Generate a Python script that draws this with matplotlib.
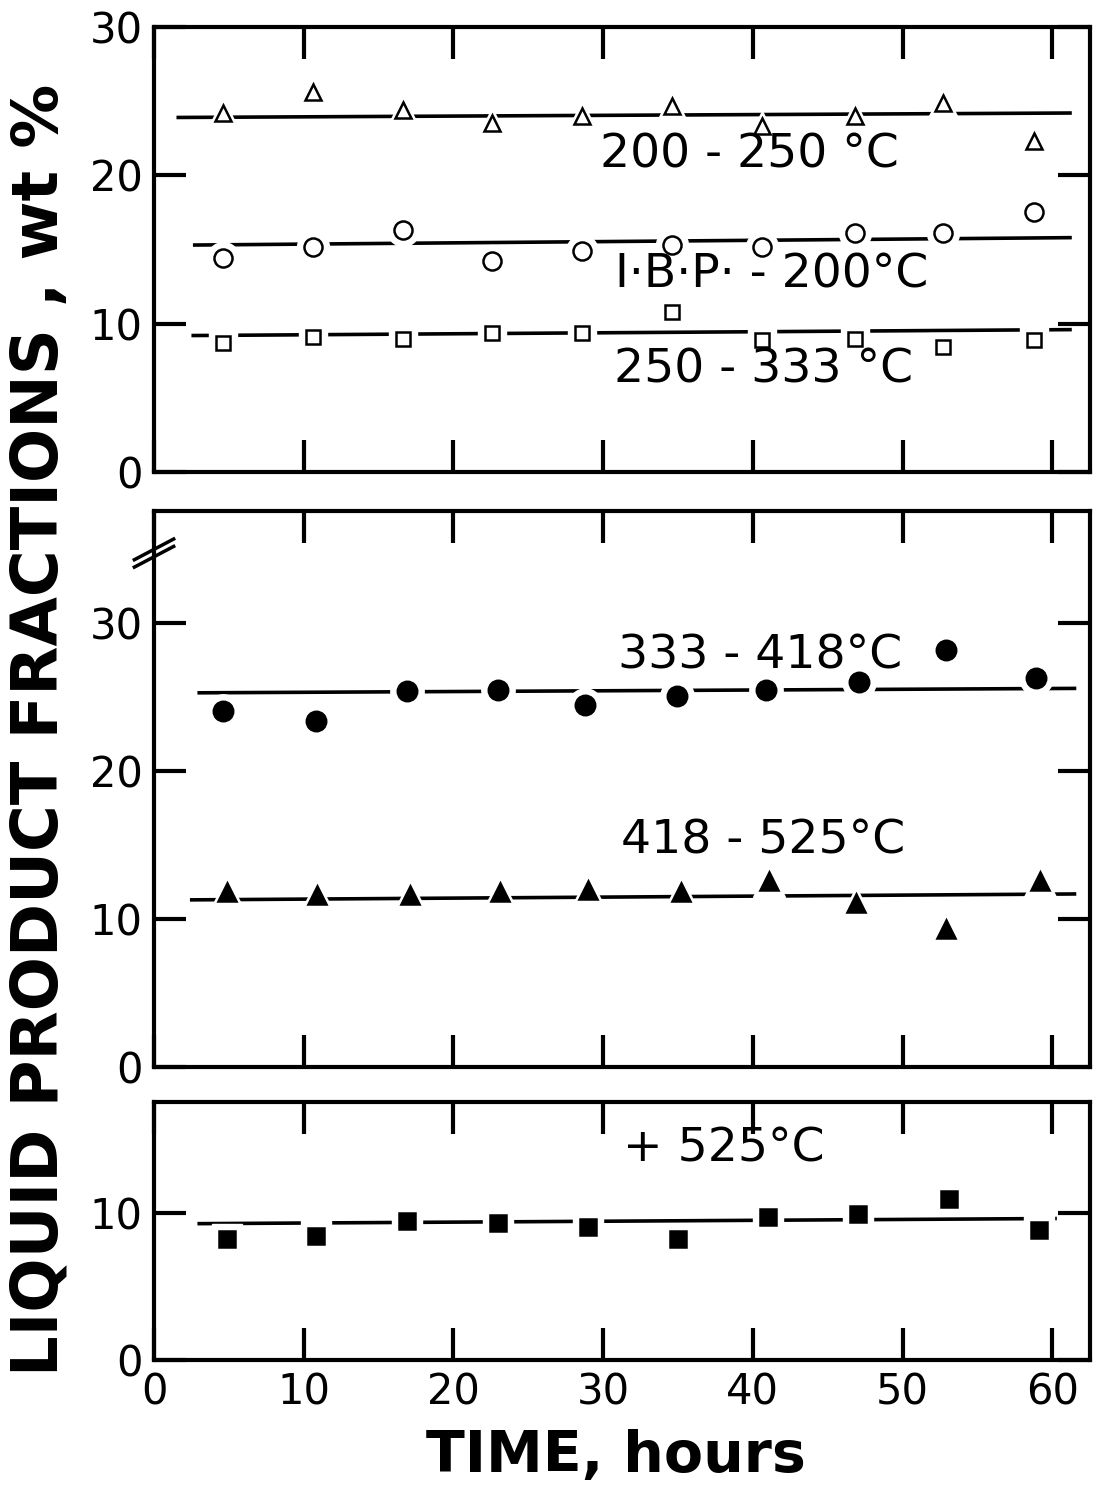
import matplotlib
matplotlib.use("Agg")
import matplotlib.pyplot as plt
import matplotlib.transforms as mtransforms

# sampling times (hours), read per panel
time_top = [4.6, 10.6, 16.6, 22.6, 28.6, 34.6, 40.6, 46.8, 52.7, 58.8]
time_mid_c = [4.6, 10.8, 16.9, 23.0, 28.8, 34.9, 40.9, 47.1, 52.9, 58.9]
time_mid_t = [4.9, 10.9, 17.1, 23.1, 29.0, 35.2, 41.1, 46.9, 52.9, 59.2]
time_bot = [4.9, 10.8, 16.9, 23.0, 29.0, 35.0, 41.0, 47.0, 53.1, 59.1]

# fractions, wt %
frac_200_250 = [24.2, 25.6, 24.4, 23.5, 24.0, 24.7, 23.3, 24.0, 24.9, 22.3]
frac_ibp_200 = [14.4, 15.2, 16.3, 14.2, 14.9, 15.3, 15.2, 16.1, 16.1, 17.5]
frac_250_333 = [8.7, 9.1, 9.0, 9.4, 9.4, 10.8, 8.9, 9.0, 8.4, 8.9]
frac_333_418 = [24.1, 23.4, 25.4, 25.5, 24.5, 25.1, 25.5, 26.0, 28.2, 26.3]
frac_418_525 = [11.8, 11.6, 11.6, 11.8, 12.0, 11.8, 12.6, 11.1, 9.3, 12.6]
frac_525_plus = [8.2, 8.4, 9.4, 9.3, 9.0, 8.2, 9.7, 9.9, 10.9, 8.8]

# drawn average lines: (x start, x end), (y start, y end)
line_200_250 = ([1.5, 61.3], [23.9, 24.2])
line_ibp_200 = ([2.6, 61.3], [15.3, 15.8])
line_250_333 = ([2.5, 61.3], [9.2, 9.6])
line_333_418 = ([2.9, 61.6], [25.3, 25.6])
line_418_525 = ([2.4, 61.6], [11.3, 11.7])
line_525_plus = ([2.9, 60.3], [9.25, 9.6])

x_ticks = [0, 10, 20, 30, 40, 50, 60]

TICK_FONT = ['DejaVu Sans']
LABEL_FONT = ['DejaVu Sans']

fig = plt.figure(figsize=(10.97, 14.90), dpi=100)
left, width = 0.1404, 0.853
ax_top = fig.add_axes([left, 0.6832, width, 0.2987])
ax_mid = fig.add_axes([left, 0.2839, width, 0.3732])
ax_bot = fig.add_axes([left, 0.0872, width, 0.1732])


def series(ax, t, y, line, marker, ms, filled):
    ax.plot(line[0], line[1], '-', color='black', lw=2.6, zorder=2,
            solid_capstyle='butt')
    ax.plot(t, y, linestyle='none', marker=marker, ms=ms + 10,
            mfc='white', mec='white', zorder=3)
    ax.plot(t, y, linestyle='none', marker=marker, ms=ms,
            mfc='black' if filled else 'white', mec='black', mew=1.8,
            zorder=4)


series(ax_top, time_top, frac_200_250, line_200_250, '^', 12, False)
series(ax_top, time_top, frac_ibp_200, line_ibp_200, 'o', 13, False)
series(ax_top, time_top, frac_250_333, line_250_333, 's', 10, False)
series(ax_mid, time_mid_c, frac_333_418, line_333_418, 'o', 14, True)
series(ax_mid, time_mid_t, frac_418_525, line_418_525, '^', 13, True)
series(ax_bot, time_bot, frac_525_plus, line_525_plus, 's', 12, True)

txt = dict(fontsize=34, family=TICK_FONT, ha='left', va='center')
ax_top.text(29.8, 21.4, '200 - 250 °C', **txt)
ax_top.text(30.8, 13.3, 'I·B·P· - 200°C', **txt)
ax_top.text(30.7, 6.9, '250 - 333 °C', **txt)
ax_mid.text(31.0, 27.8, '333 - 418°C', **txt)
ax_mid.text(31.2, 15.3, '418 - 525°C', **txt)
ax_bot.text(31.3, 14.3, '+ 525°C', **txt)

for ax, ylim, yticks in [(ax_top, 30, [0, 10, 20, 30]),
                         (ax_mid, 37.6, [0, 10, 20, 30]),
                         (ax_bot, 17.5, [0, 10])]:
    ax.set_xlim(0, 62.5)
    ax.set_ylim(0, ylim)
    ax.set_xticks(x_ticks)
    ax.set_yticks(yticks)
    ax.tick_params(direction='in', length=23, width=3, top=True, right=True,
                   labelsize=30, pad=8)
    for s in ax.spines.values():
        s.set_linewidth(3)
    for lab in ax.get_yticklabels():
        lab.set_family(TICK_FONT)
    if ax is not ax_bot:
        ax.set_xticklabels([])
    else:
        for lab in ax.get_xticklabels():
            lab.set_family(TICK_FONT)

# axis break on middle panel
trans = mtransforms.blended_transform_factory(ax_mid.transAxes, ax_mid.transData)
ax_mid.plot([-0.021, 0.021], [34.3, 35.7], color='black', lw=2.5,
            transform=trans, clip_on=False)
ax_mid.plot([-0.021, 0.021], [33.8, 35.2], color='black', lw=2.5,
            transform=trans, clip_on=False)

fig.text(0.036, 0.51, 'LIQUID PRODUCT FRACTIONS , wt %', rotation=90,
         ha='center', va='center', fontsize=46, fontweight='bold',
         family=LABEL_FONT)
fig.text(0.5615, 0.012, 'TIME, hours', ha='center', va='baseline',
         fontsize=41, fontweight='bold', family=LABEL_FONT)

fig.savefig('out.png', dpi=100)
